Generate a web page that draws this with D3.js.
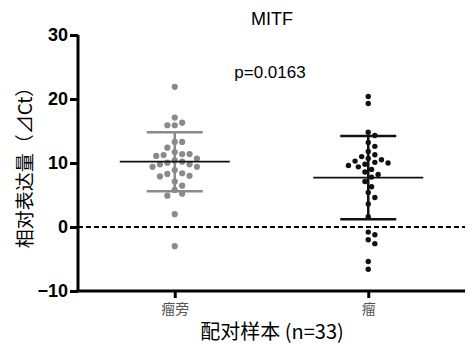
<!DOCTYPE html>
<html><head><meta charset="utf-8">
<script src="https://cdn.jsdelivr.net/npm/d3@7"></script>
<style>html,body{margin:0;padding:0;background:#fff}</style>
</head><body>
<svg id="c" width="471" height="346"></svg>
<script>
const categories = ["瘤旁", "瘤"];
const adjacentValues = [21.9, 17.1, 16.3, 15.9, 15.9, 13.3, 13.3, 12.4, 11.7, 11.4, 11.4, 11.25, 11.1, 10.7, 10.4, 10.2, 10.05, 9.8, 9.8, 9.4, 9.4, 8.9, 8.4, 8.3, 8.0, 7.9, 7.1, 6.45, 5.8, 5.2, 4.9, 2.0, -3.0];
const tumorValues = [20.4, 19.3, 14.8, 14.3, 13.2, 12.6, 11.8, 11.3, 11.0, 10.7, 10.5, 10.3, 10.1, 10.0, 9.8, 9.6, 9.4, 9.0, 8.6, 8.2, 7.8, 7.1, 6.3, 5.4, 4.6, 3.6, 1.6, -0.8, -1.2, -2.0, -2.6, -5.4, -6.6];
const means = [10.2, 7.7];
const sds = [4.6, 6.5];
const yTicks = [-10, 0, 10, 20, 30];
const title = "MITF";
const pText = "p=0.0163";
const xTitle = "配对样本 (n=33)";
const yTitle = "相对表达量（⊿Ct）";

const svg = d3.select("#c");
const x0 = 78, x1 = 465, yTop = 35, yBot = 291;
const x = d3.scalePoint().domain(categories).range([x0, x1]).padding(0.5);
const y = d3.scaleLinear().domain([-10, 30]).range([yBot, yTop]);

const groups = [
  {cat: categories[0], vals: adjacentValues, color: "#8a8a8a", r: 3.1, mean: means[0], sd: sds[0], meanColor: "#111"},
  {cat: categories[1], vals: tumorValues, color: "#111", r: 2.7, mean: means[1], sd: sds[1], meanColor: "#111"}
];

svg.append("line").attr("x1", x0).attr("x2", x1).attr("y1", y(0)).attr("y2", y(0))
  .attr("stroke", "#000").attr("stroke-width", 2).attr("stroke-dasharray", "5,3");

function swarm(vals, r) {
  const placed = [];
  const sorted = vals.map((v, i) => ({v, i})).sort((a, b) => b.v - a.v);
  const d = 2 * r + 1.2;
  sorted.forEach(p => {
    const py = y(p.v);
    let best = null;
    for (let k = 0; k < 40 && best === null; k++) {
      const cands = k === 0 ? [0] : [k * d / 2, -k * d / 2];
      for (const c of cands) {
        if (placed.every(q => Math.hypot(q.dx - c, q.py - py) >= d)) { best = c; break; }
      }
    }
    placed.push({dx: best, py, v: p.v});
  });
  return placed;
}

groups.forEach(g => {
  const cx = x(g.cat);
  const pts = swarm(g.vals, g.r);
  svg.append("g").selectAll("circle").data(pts).join("circle")
    .attr("cx", d => cx + d.dx).attr("cy", d => d.py).attr("r", g.r).attr("fill", g.color);
  const sc = g.color;
  const lw = 2.5;
  svg.append("line").attr("x1", cx).attr("x2", cx).attr("y1", y(g.mean + g.sd)).attr("y2", y(g.mean - g.sd))
    .attr("stroke", sc).attr("stroke-width", lw);
  [g.mean + g.sd, g.mean - g.sd].forEach(v => {
    svg.append("line").attr("x1", cx - 28).attr("x2", cx + 28).attr("y1", y(v)).attr("y2", y(v))
      .attr("stroke", sc).attr("stroke-width", lw);
  });
  svg.append("line").attr("x1", cx - 55).attr("x2", cx + 55).attr("y1", y(g.mean)).attr("y2", y(g.mean))
    .attr("stroke", g.meanColor).attr("stroke-width", 1.8);
});

const yAxis = svg.append("g").attr("transform", `translate(${x0},0)`)
  .call(d3.axisLeft(y).tickValues(yTicks).tickSize(8).tickPadding(2).tickFormat(d3.format("d")));
yAxis.select(".domain").attr("stroke-width", 3).attr("d", `M0,${yTop}V${yBot}`);
yAxis.selectAll(".tick line").attr("stroke-width", 3);
yAxis.selectAll("text").attr("font-family", "Liberation Sans, Arial, sans-serif").attr("font-weight", "bold")
  .attr("font-size", 18).attr("fill", "#000");

const xAxis = svg.append("g").attr("transform", `translate(0,${yBot})`)
  .call(d3.axisBottom(x).tickSize(7).tickPadding(6));
xAxis.select(".domain").attr("stroke-width", 3).attr("d", `M${x0 - 1.5},0H${x1}`);
xAxis.selectAll(".tick line").attr("stroke-width", 3);
xAxis.selectAll("text").attr("font-family", "Noto Sans CJK SC, sans-serif").attr("font-size", 14).attr("fill", "#555");

svg.append("text").attr("x", 272).attr("y", 25).attr("text-anchor", "middle")
  .attr("font-family", "Liberation Sans, Arial, sans-serif").attr("font-size", 18).text(title);
svg.append("text").attr("x", 270).attr("y", 78).attr("text-anchor", "middle")
  .attr("font-family", "Liberation Sans, Arial, sans-serif").attr("font-size", 17).text(pText);
svg.append("text").attr("x", 272).attr("y", 339).attr("text-anchor", "middle")
  .attr("font-family", "Noto Sans CJK SC, sans-serif").attr("font-size", 20).attr("fill", "#000").text(xTitle);
svg.append("text").attr("transform", `translate(32,${(yTop + yBot) / 2}) rotate(-90)`).attr("text-anchor", "middle")
  .attr("font-family", "Noto Sans CJK SC, sans-serif").attr("font-size", 19).attr("fill", "#000").text(yTitle);
</script>
</body></html>
